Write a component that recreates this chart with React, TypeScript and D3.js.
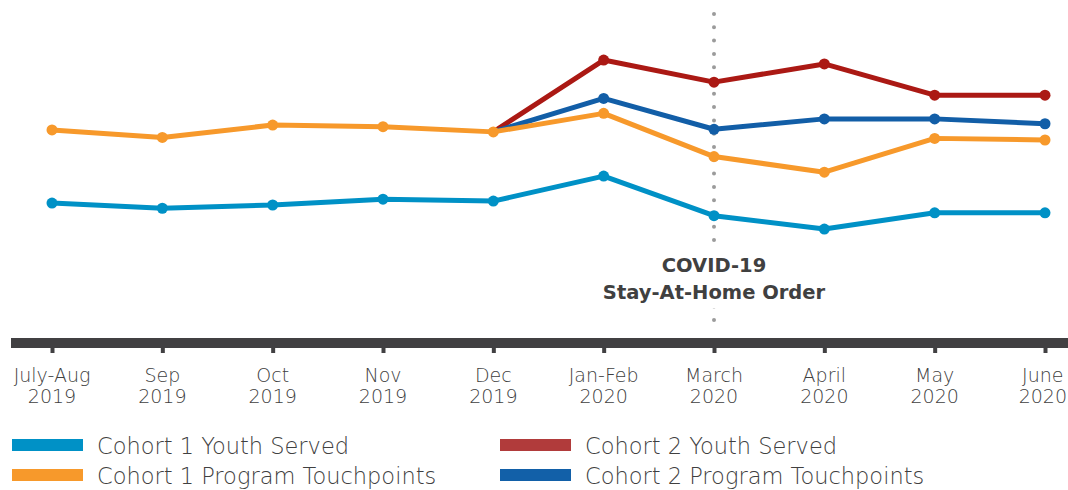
import * as d3 from 'd3';
import React, { useEffect, useRef } from 'react';

// categories along the timeline
const months = ['July-Aug', 'Sep', 'Oct', 'Nov', 'Dec', 'Jan-Feb', 'March', 'April', 'May', 'June'];
const years = ['2019', '2019', '2019', '2019', '2019', '2020', '2020', '2020', '2020', '2020'];

// series values (relative index)
const cohort1Youth = [406, 390, 400, 418, 412, 489, 367, 326, 376, 376];
const cohort1Touch = [631, 608, 646, 641, 625, 682, 549, 501, 605, 600];
const cohort2Youth = [null, null, null, null, 625, 846, 778, 834, 738, 738];
const cohort2Touch = [null, null, null, null, 625, 728, 633, 665, 665, 650];

const seriesNames = [
  'Cohort 1 Youth Served',
  'Cohort 1 Program Touchpoints',
  'Cohort 2 Youth Served',
  'Cohort 2 Program Touchpoints',
];

const eventMonth = 'March';
const eventLabel = ['COVID-19', 'Stay-At-Home Order'];

const colors = {
  c1Youth: '#0091c6',
  c1Touch: '#f7992b',
  c2Youth: '#ab1914',
  c2Touch: '#125ea7',
};
const legendColors = ['#0091c6', '#f7992b', '#b13b3b', '#1260a8'];

const axisColor = '#414042';
const textColor = '#404040';
const font = '"DejaVu Sans", sans-serif';

export default function App() {
  const svgRef = useRef<SVGSVGElement>(null);
  const width = 1068;
  const height = 490;

  useEffect(() => {
    document.body.style.margin = '0';
    const svg = d3.select(svgRef.current);
    svg.selectAll('*').remove();

    const x = d3.scalePoint<string>().domain(months).range([52, 1045]);
    const y = d3.scaleLinear().domain([0, 1000]).range([335, 10]);

    // event marker (dotted line)
    const ex = x(eventMonth) as number;
    svg
      .append('line')
      .attr('x1', ex)
      .attr('x2', ex)
      .attr('y1', 14)
      .attr('y2', 333)
      .attr('stroke', '#9b9b9b')
      .attr('stroke-width', 4)
      .attr('stroke-linecap', 'round')
      .attr('stroke-dasharray', '0 13.3');

    svg
      .append('rect')
      .attr('x', ex - 20)
      .attr('y', 246)
      .attr('width', 40)
      .attr('height', 62)
      .attr('fill', '#fff');

    svg
      .append('g')
      .selectAll('text')
      .data(eventLabel)
      .enter()
      .append('text')
      .attr('x', ex)
      .attr('y', (d, i) => 272 + i * 26.5)
      .attr('text-anchor', 'middle')
      .attr('font-family', font)
      .attr('font-weight', 'bold')
      .attr('font-size', 19.5)
      .attr('fill', textColor)
      .text((d) => d);

    // axis bar + ticks
    svg
      .append('rect')
      .attr('x', 11)
      .attr('y', 338)
      .attr('width', width - 11)
      .attr('height', 10)
      .attr('fill', axisColor);

    const xAxis = d3.axisBottom(x).tickSize(5).tickFormat(() => '');
    const gx = svg
      .append('g')
      .attr('transform', 'translate(0,348)')
      .call(xAxis);
    gx.select('.domain').remove();
    gx.selectAll('.tick line').attr('stroke', axisColor).attr('stroke-width', 4);

    const labels = svg
      .append('g')
      .selectAll('text')
      .data(months)
      .enter()
      .append('text')
      .attr('text-anchor', 'middle')
      .attr('font-family', font)
      .attr('font-weight', 300)
      .attr('font-size', 19)
      .attr('fill', textColor);
    labels
      .append('tspan')
      .attr('x', (d) => x(d) as number)
      .attr('y', 382)
      .text((d) => d);
    labels
      .append('tspan')
      .attr('x', (d) => x(d) as number)
      .attr('y', 403)
      .text((d, i) => years[i]);
    // keep the last label inside the picture
    labels.each(function () {
      const box = (this as SVGTextElement).getBBox();
      const over = box.x + box.width - (width - 1);
      if (over > 0) d3.select(this).attr('transform', `translate(${-over},0)`);
    });

    // lines
    const drawSeries = (values: (number | null)[], color: string, dotFrom: number) => {
      const pts = months
        .map((m, i) => ({ m, v: values[i] }))
        .filter((d) => d.v !== null) as { m: string; v: number }[];
      const line = d3
        .line<{ m: string; v: number }>()
        .x((d) => x(d.m) as number)
        .y((d) => y(d.v));
      svg
        .append('path')
        .datum(pts)
        .attr('d', line)
        .attr('fill', 'none')
        .attr('stroke', color)
        .attr('stroke-width', 5)
        .attr('stroke-linejoin', 'round');
      svg
        .append('g')
        .selectAll('circle')
        .data(pts.filter((d) => months.indexOf(d.m) >= dotFrom))
        .enter()
        .append('circle')
        .attr('cx', (d) => x(d.m) as number)
        .attr('cy', (d) => y(d.v))
        .attr('r', 5.5)
        .attr('fill', color);
    };

    drawSeries(cohort2Youth, colors.c2Youth, 5);
    drawSeries(cohort2Touch, colors.c2Touch, 5);
    drawSeries(cohort1Touch, colors.c1Touch, 0);
    drawSeries(cohort1Youth, colors.c1Youth, 0);

    // legend
    const legend = svg
      .append('g')
      .selectAll('g')
      .data(seriesNames)
      .enter()
      .append('g')
      .attr('transform', (d, i) => `translate(${i < 2 ? 12 : 500},${i % 2 === 0 ? 439 : 469})`);
    legend
      .append('rect')
      .attr('width', 71)
      .attr('height', 12)
      .attr('fill', (d, i) => legendColors[i]);
    legend
      .append('text')
      .attr('x', 85)
      .attr('y', 15)
      .attr('font-family', font)
      .attr('font-weight', 300)
      .attr('font-size', 22.5)
      .attr('fill', textColor)
      .text((d) => d);
  }, []);

  return <svg ref={svgRef} width={width} height={height} style={{ display: 'block' }} />;
}
